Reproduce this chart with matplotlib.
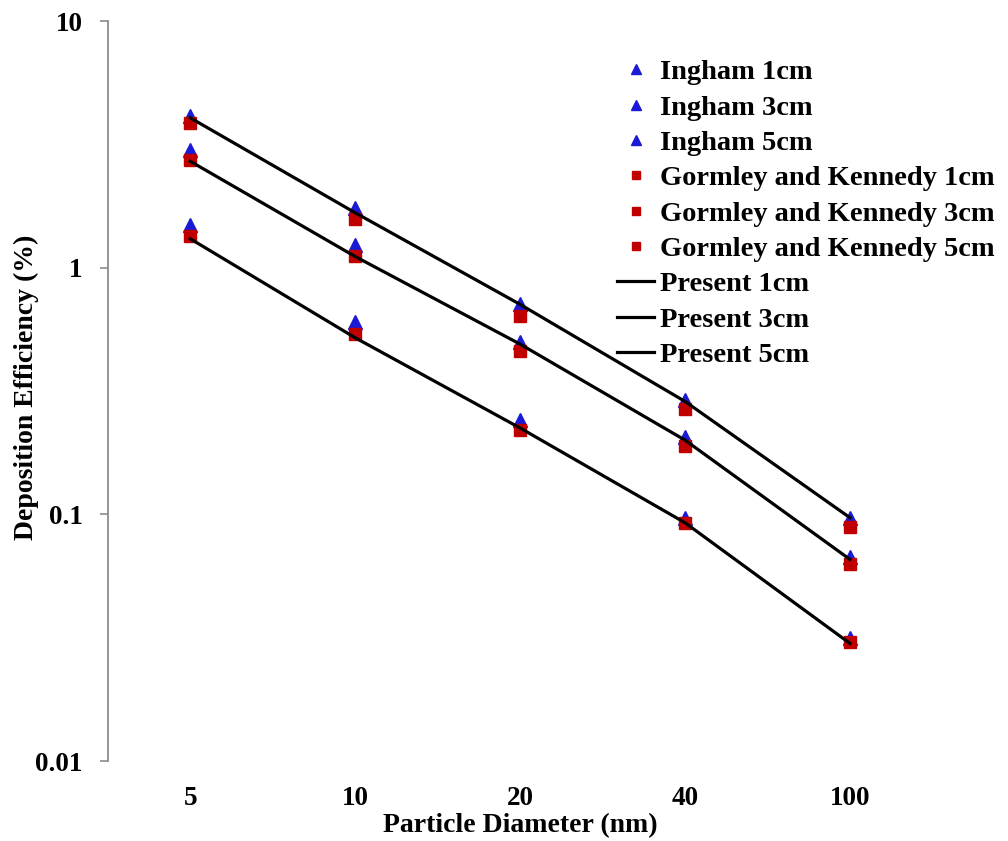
import matplotlib
matplotlib.use("Agg")
import matplotlib.pyplot as plt

plt.rcParams["font.family"] = ["Liberation Serif", "DejaVu Serif"]
plt.rcParams["font.weight"] = "bold"

# particle diameter (nm), plotted as equally spaced categories
diameters = ["5", "10", "20", "40", "100"]

# deposition efficiency (%)
ingham_1 = [4.13, 1.75, 0.71, 0.29, 0.097]
ingham_3 = [3.00, 1.24, 0.50, 0.206, 0.067]
ingham_5 = [1.49, 0.60, 0.242, 0.097, 0.0316]
gk_1 = [3.86, 1.58, 0.64, 0.267, 0.089]
gk_3 = [2.74, 1.12, 0.46, 0.19, 0.063]
gk_5 = [1.34, 0.54, 0.22, 0.092, 0.0303]
present_1 = [4.05, 1.67, 0.71, 0.287, 0.097]
present_3 = [2.70, 1.11, 0.49, 0.20, 0.0657]
present_5 = [1.31, 0.52, 0.224, 0.0925, 0.030]

x = list(range(len(diameters)))

fig = plt.figure(figsize=(10.08, 8.41), dpi=100)
ax = fig.add_axes([0.107, 0.095, 0.818, 0.88])

blue = "#1a1ad6"
red = "#c00000"

# Ingham triangles
for vals, lab in [(ingham_1, "Ingham 1cm"), (ingham_3, "Ingham 3cm"), (ingham_5, "Ingham 5cm")]:
    ax.plot(x, vals, linestyle="none", marker="^", markersize=9.5,
            color=blue, markeredgecolor=blue, label=lab)

# Gormley and Kennedy squares
for vals, lab in [(gk_1, "Gormley and Kennedy 1cm"), (gk_3, "Gormley and Kennedy 3cm"),
                  (gk_5, "Gormley and Kennedy 5cm")]:
    ax.plot(x, vals, linestyle="none", marker="s", markersize=8.5,
            color=red, markeredgecolor=red, label=lab)

# present model lines
for vals, lab in [(present_1, "Present 1cm"), (present_3, "Present 3cm"), (present_5, "Present 5cm")]:
    ax.plot(x, vals, color="black", linewidth=2.3, label=lab)

ax.set_yscale("log")
ax.set_ylim(0.01, 10)
ax.set_xlim(-0.5, len(diameters) - 0.5)
ax.set_yticks([0.01, 0.1, 1, 10])
ax.set_yticklabels(["0.01", "0.1", "1", "10"])
ax.minorticks_off()
ax.set_xticks(x)
ax.set_xticklabels(diameters)

for s in ["top", "right", "bottom"]:
    ax.spines[s].set_visible(False)
ax.spines["left"].set_color("#8c8c8c")
ax.spines["left"].set_linewidth(1.3)

ax.tick_params(axis="y", direction="out", length=6, width=1.2, color="#8c8c8c",
               labelsize=19.5, pad=12)
ax.tick_params(axis="x", length=0, labelsize=19.5, pad=18)
for t in ax.get_xticklabels() + ax.get_yticklabels():
    t.set_fontweight("bold")

ax.set_xlabel("Particle Diameter (nm)", fontsize=20, fontweight="bold")
ax.xaxis.set_label_coords(0.5, -0.07)
ax.set_ylabel("Deposition Efficiency (%)", fontsize=20, fontweight="bold")
ax.yaxis.set_label_coords(-0.084, 0.505)

leg = ax.legend(loc="upper left", bbox_to_anchor=(0.617, 0.948), frameon=False,
                prop={"size": 20.5, "weight": "bold"}, labelspacing=0.33,
                handlelength=1.33, handletextpad=0.18, markerscale=0.7,
                borderaxespad=0, borderpad=0)

fig.savefig("out.png", dpi=100)
